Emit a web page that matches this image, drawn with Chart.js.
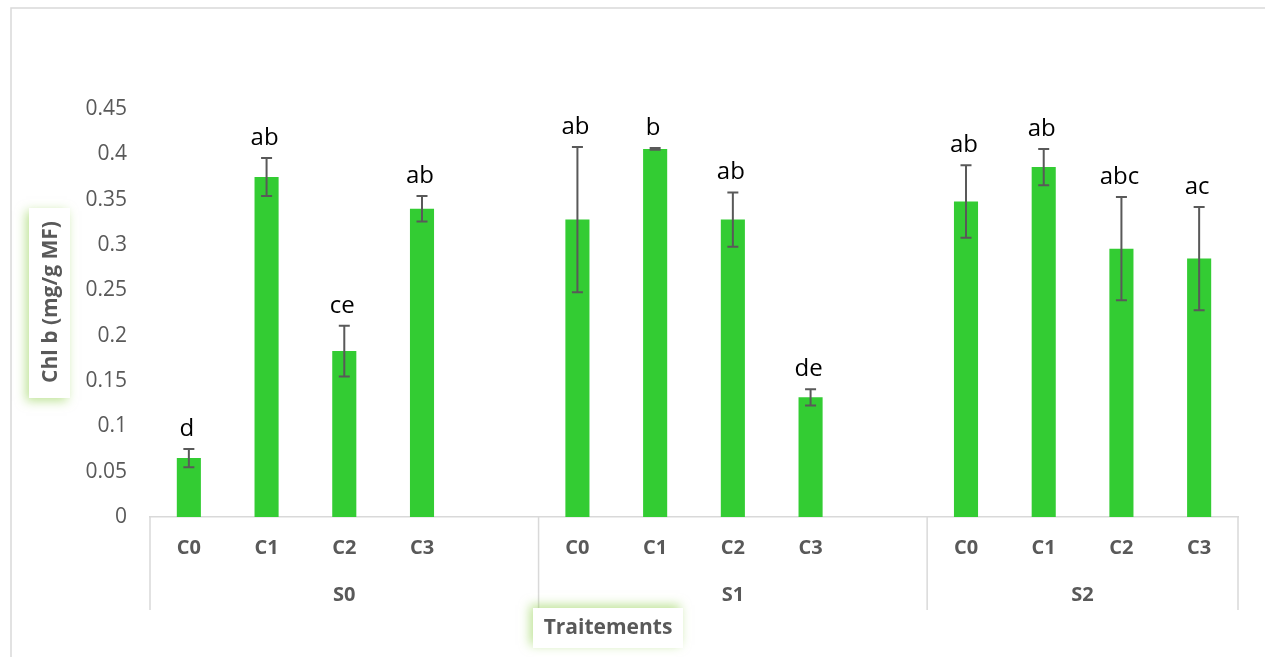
<!DOCTYPE html>
<html>
<head>
<meta charset="utf-8">
<script src="https://cdn.jsdelivr.net/npm/chart.js@4/dist/chart.umd.min.js"></script>
<style>
  html, body { margin: 0; padding: 0; background: #ffffff; }
  #wrap { width: 1265px; height: 657px; position: relative; }
</style>
</head>
<body>
<div id="wrap"><canvas id="chart"></canvas></div>
<script>
// Salinity groups and concentration levels
const groups = ['S0', 'S1', 'S2'];
const levels = ['C0', 'C1', 'C2', 'C3'];

// Chl b content (mg/g MF), mean per group
const chlS0 = [0.065, 0.375, 0.183, 0.340];
const chlS1 = [0.328, 0.406, 0.328, 0.132];
const chlS2 = [0.348, 0.386, 0.296, 0.285];

// Standard error per group
const errS0 = [0.010, 0.021, 0.028, 0.014];
const errS1 = [0.080, 0.001, 0.030, 0.009];
const errS2 = [0.040, 0.020, 0.057, 0.057];

// Significance letters per group
const sigS0 = ['d', 'ab', 'ce', 'ab'];
const sigS1 = ['ab', 'b', 'ab', 'de'];
const sigS2 = ['ab', 'ab', 'abc', 'ac'];

// Y axis ticks
const yTicks = [0, 0.05, 0.1, 0.15, 0.2, 0.25, 0.3, 0.35, 0.4, 0.45];

const groupValues = [chlS0, chlS1, chlS2];
const groupErrors = [errS0, errS1, errS2];
const groupLetters = [sigS0, sigS1, sigS2];

// Flatten into category slots, with an empty slot between groups
const labels = [], values = [], errors = [], letters = [], groupSpans = [];
groups.forEach((g, gi) => {
  const start = labels.length;
  levels.forEach((c, ci) => {
    labels.push(c);
    values.push(groupValues[gi][ci]);
    errors.push(groupErrors[gi][ci]);
    letters.push(groupLetters[gi][ci]);
  });
  if (gi < groups.length - 1) {
    labels.push('');
    values.push(null);
    errors.push(null);
    letters.push('');
  }
  groupSpans.push({ name: g, first: start, last: labels.length - 1 });
});

const GREY = '#595959';
const LINE = '#d9d9d9';
const FONT = "'Open Sans', 'DejaVu Sans', sans-serif";

const decorPlugin = {
  id: 'decor',
  beforeDraw(chart) {
    const ctx = chart.ctx;
    ctx.save();
    ctx.fillStyle = '#ffffff';
    ctx.fillRect(0, 0, chart.width, chart.height);
    ctx.strokeStyle = LINE;
    ctx.lineWidth = 1.5;
    ctx.beginPath();
    ctx.moveTo(11, chart.height);
    ctx.lineTo(11, 8);
    ctx.lineTo(chart.width, 8);
    ctx.stroke();
    ctx.restore();
  },
  afterDatasetsDraw(chart) {
    const ctx = chart.ctx;
    const x = chart.scales.x, y = chart.scales.y;
    ctx.save();
    // error bars
    ctx.strokeStyle = GREY;
    ctx.lineWidth = 2;
    values.forEach((v, i) => {
      if (v === null) return;
      const px = x.getPixelForValue(i);
      const top = y.getPixelForValue(v + errors[i]);
      const bot = y.getPixelForValue(v - errors[i]);
      ctx.beginPath();
      ctx.moveTo(px, top); ctx.lineTo(px, bot);
      ctx.moveTo(px - 5.5, top); ctx.lineTo(px + 5.5, top);
      ctx.moveTo(px - 5.5, bot); ctx.lineTo(px + 5.5, bot);
      ctx.stroke();
    });
    // significance letters
    ctx.fillStyle = '#000000';
    ctx.font = '24px ' + FONT;
    ctx.textAlign = 'center';
    ctx.textBaseline = 'alphabetic';
    values.forEach((v, i) => {
      if (v === null) return;
      const px = x.getPixelForValue(i);
      const top = y.getPixelForValue(v + errors[i]);
      ctx.fillText(letters[i], px - 2, top - 13);
    });
    ctx.restore();
  },
  afterDraw(chart) {
    const ctx = chart.ctx;
    const x = chart.scales.x;
    const area = chart.chartArea;
    const half = (x.getPixelForValue(1) - x.getPixelForValue(0)) / 2;
    ctx.save();
    // group separators and group labels
    ctx.strokeStyle = LINE;
    ctx.lineWidth = 1.5;
    const sepBottom = area.bottom + 93;
    const edges = [];
    groupSpans.forEach(s => {
      edges.push(x.getPixelForValue(s.first) - half);
    });
    edges.push(x.getPixelForValue(groupSpans[groupSpans.length - 1].last) + half);
    edges.forEach(ex => {
      ctx.beginPath();
      ctx.moveTo(ex, area.bottom);
      ctx.lineTo(ex, sepBottom);
      ctx.stroke();
    });
    ctx.fillStyle = GREY;
    ctx.font = 'bold 20px ' + FONT;
    ctx.textAlign = 'center';
    ctx.textBaseline = 'middle';
    groupSpans.forEach(s => {
      const cx = (x.getPixelForValue(s.first) + x.getPixelForValue(s.last)) / 2;
      ctx.fillText(s.name, cx, area.bottom + 78);
    });

    // axis title boxes with a soft green glow
    const glow = 'rgba(146, 208, 80, 0.6)';
    // y title
    ctx.save();
    ctx.shadowColor = glow;
    ctx.shadowBlur = 10;
    ctx.shadowOffsetX = -3;
    ctx.shadowOffsetY = 3;
    ctx.fillStyle = '#ffffff';
    ctx.fillRect(29, 208, 41, 190);
    ctx.restore();
    ctx.save();
    ctx.translate(51, 302);
    ctx.rotate(-Math.PI / 2);
    ctx.fillStyle = GREY;
    ctx.font = 'bold 21px ' + FONT;
    ctx.textAlign = 'center';
    ctx.textBaseline = 'middle';
    ctx.fillText('Chl b (mg/g MF)', 0, 0);
    ctx.restore();
    // x title
    ctx.save();
    ctx.shadowColor = glow;
    ctx.shadowBlur = 10;
    ctx.shadowOffsetX = -3;
    ctx.shadowOffsetY = -3;
    ctx.fillStyle = '#ffffff';
    ctx.fillRect(533, 608, 150, 40);
    ctx.restore();
    ctx.fillStyle = GREY;
    ctx.font = 'bold 21px ' + FONT;
    ctx.textAlign = 'center';
    ctx.textBaseline = 'middle';
    ctx.fillText('Traitements', 608, 628);
    ctx.restore();
  }
};

new Chart(document.getElementById('chart'), {
  type: 'bar',
  data: {
    labels: labels,
    datasets: [{
      data: values,
      backgroundColor: '#33cc33',
      borderWidth: 0,
      barPercentage: 0.31,
      categoryPercentage: 1.0
    }]
  },
  options: {
    responsive: true,
    maintainAspectRatio: false,
    animation: false,
    events: [],
    layout: { padding: { top: 109, right: 27, bottom: 0, left: 0 } },
    plugins: { legend: { display: false }, tooltip: { enabled: false } },
    scales: {
      x: {
        grid: { display: false, drawTicks: false },
        border: { display: true, color: LINE, width: 1.5 },
        ticks: {
          color: GREY,
          font: { family: FONT, size: 20, weight: 'bold' },
          padding: 19,
          autoSkip: false,
          maxRotation: 0
        },
        afterFit(scale) { scale.height = 140; }
      },
      y: {
        min: 0,
        max: 0.45,
        grid: { display: false, drawTicks: false },
        border: { display: false },
        afterBuildTicks(scale) { scale.ticks = yTicks.map(v => ({ value: v })); },
        ticks: {
          color: GREY,
          font: { family: FONT, size: 21 },
          padding: 23,
          callback: v => String(Math.round(v * 100) / 100)
        },
        afterFit(scale) { scale.width = 150; }
      }
    }
  },
  plugins: [decorPlugin]
});
</script>
</body>
</html>
